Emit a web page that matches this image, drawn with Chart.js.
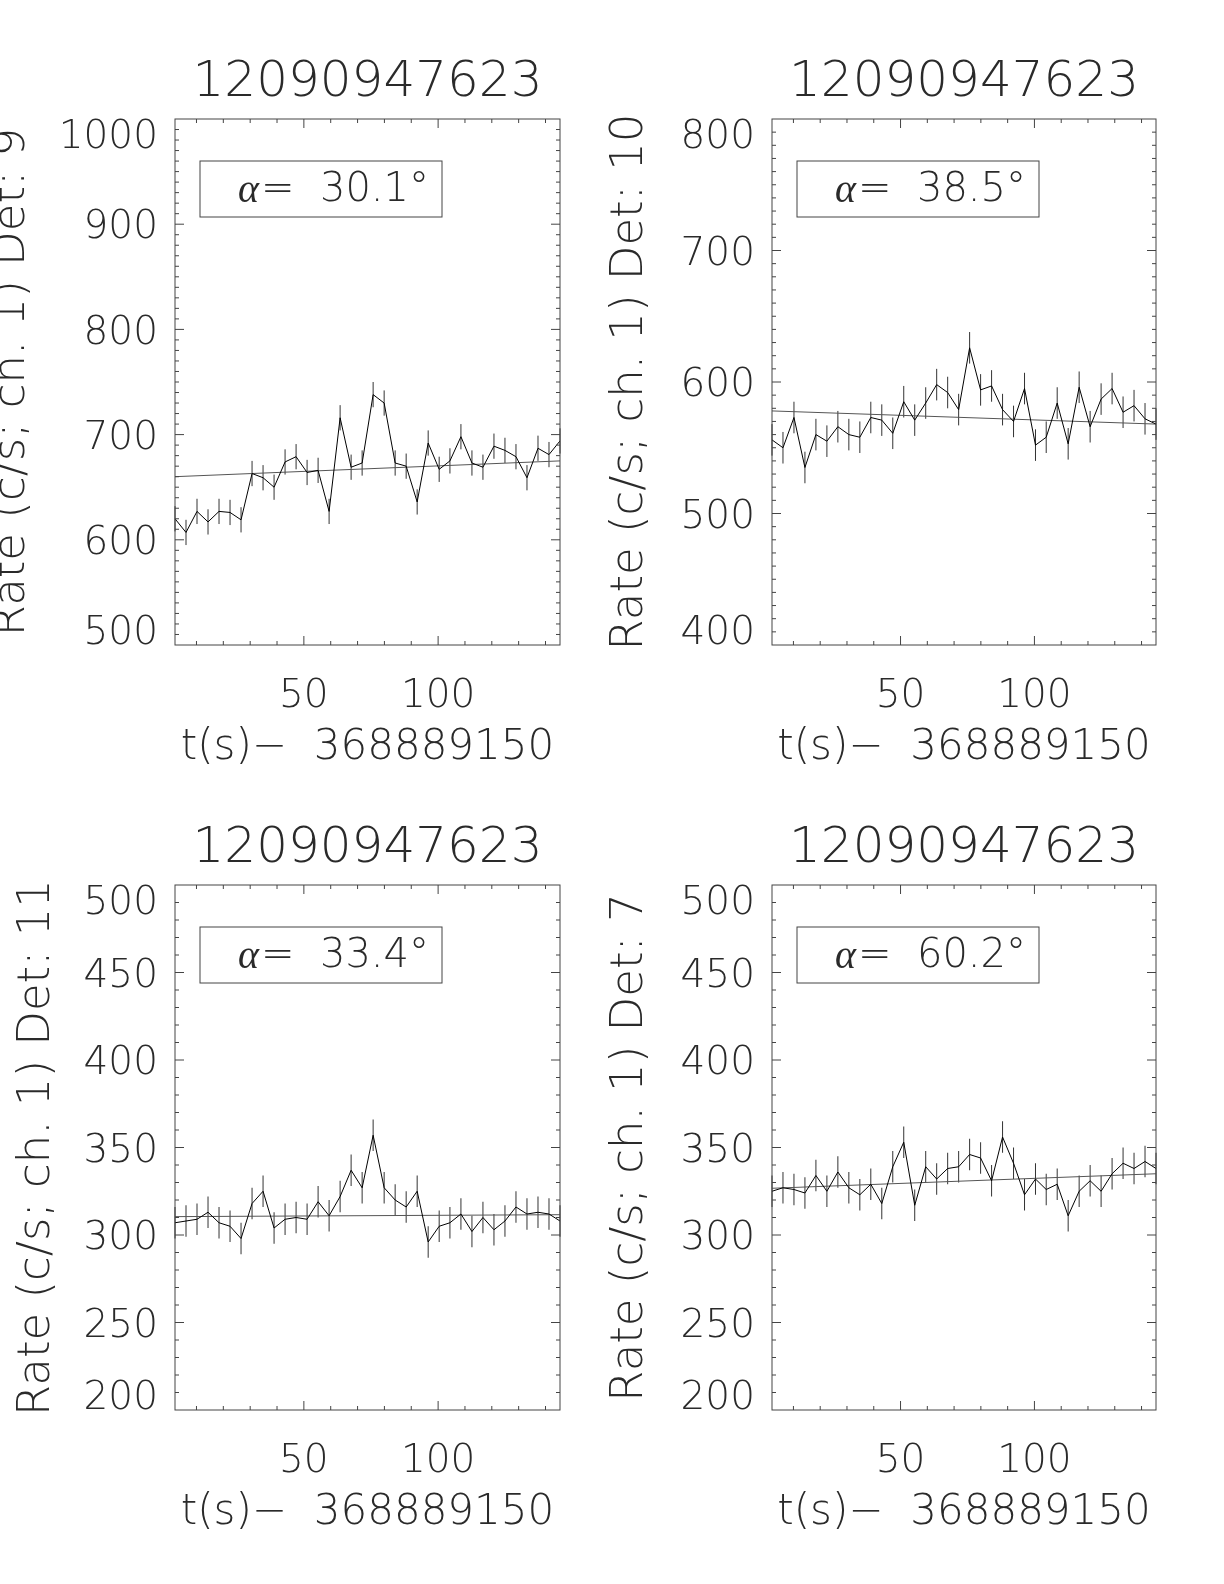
<!DOCTYPE html>
<html>
<head>
<meta charset="utf-8">
<title>Rates per detector</title>
<script src="https://cdn.jsdelivr.net/npm/chart.js@4.4.1/dist/chart.umd.min.js"></script>
<style>
  html, body { margin: 0; padding: 0; background: #fff; }
  #page { position: relative; width: 1224px; height: 1584px; overflow: hidden; }
  #page canvas { position: absolute; }
</style>
</head>
<body>
<div id="page">
  <canvas id="det9" width="590" height="792" style="left:0;top:0"></canvas>
  <canvas id="det10" width="634" height="792" style="left:590px;top:0"></canvas>
  <canvas id="det11" width="590" height="792" style="left:0;top:792px"></canvas>
  <canvas id="det7" width="634" height="792" style="left:590px;top:792px"></canvas>
</div>
<script>
// bin centres, seconds after 368889150
const times = [2.0, 6.1, 10.2, 14.3, 18.4, 22.5, 26.6, 30.7, 34.8, 38.9, 43.0, 47.1,
  51.2, 55.3, 59.4, 63.5, 67.6, 71.7, 75.8, 79.9, 84.0, 88.1, 92.2, 96.3,
  100.4, 104.4, 108.5, 112.6, 116.7, 120.8, 124.9, 129.0, 133.1, 137.2, 141.3, 145.4];

// count rates (c/s, ch. 1) per detector
const rateDet9 = [620, 607, 627, 617, 627, 626, 619, 663, 659, 650, 674, 679,
  664, 666, 627, 716, 669, 673, 738, 730, 673, 670, 636, 692,
  667, 675, 698, 673, 669, 689, 685, 679, 659, 687, 681, 694];
const rateDet10 = [556, 550, 573, 535, 560, 555, 566, 560, 558, 573, 571, 561,
  585, 571, 584, 598, 592, 579, 626, 594, 597, 579, 570, 595,
  552, 558, 584, 553, 596, 566, 587, 595, 577, 582, 572, 568];
const rateDet11 = [307, 308, 309, 313, 307, 305, 298, 318, 325, 304, 309, 310,
  309, 319, 311, 322, 337, 327, 357, 327, 320, 316, 325, 296,
  305, 307, 312, 302, 310, 303, 308, 316, 312, 313, 312, 308];
const rateDet7 = [325, 327, 326, 324, 334, 325, 336, 327, 323, 329, 318, 339,
  353, 317, 339, 332, 338, 339, 346, 344, 331, 356, 341, 323,
  332, 326, 329, 311, 325, 331, 325, 335, 341, 338, 342, 338];

// 1-sigma error on each rate
const errDet = [12, 12, 9, 9];

// linear fit, value at first and last bin
const fitDet9 = [660, 675];
const fitDet10 = [578, 568];
const fitDet11 = [310.5, 311.6];
const fitDet7 = [326.7, 335];

const detNames = [9, 10, 11, 7];
const alphaDeg = ["30.1", "38.5", "33.4", "60.2"];
const yRanges = [[500, 1000], [400, 800], [200, 500], [200, 500]];
const yMajor = [100, 100, 50, 50];
const obsId = "12090947623";

const INK = "#2a2a2a";
const FONT = "'DejaVu Sans', sans-serif";

// IDL-ish frame: box, inward ticks on all sides, error bars, alpha label
const idlFrame = {
  id: "idlFrame",
  beforeDatasetsDraw(chart, args, opts) {
    const { ctx, scales: { x, y } } = chart;
    const pts = chart.data.datasets[0].data;
    ctx.save();
    ctx.strokeStyle = "#333";
    ctx.lineWidth = 1;
    ctx.beginPath();
    pts.forEach((p) => {
      const px = x.getPixelForValue(p.x);
      ctx.moveTo(px, y.getPixelForValue(p.y - opts.err));
      ctx.lineTo(px, y.getPixelForValue(p.y + opts.err));
    });
    ctx.stroke();
    ctx.restore();
  },
  afterDatasetsDraw(chart, args, opts) {
    const { ctx, chartArea: a, scales: { x, y } } = chart;
    ctx.save();
    ctx.strokeStyle = "#444";
    ctx.lineWidth = 1;
    ctx.strokeRect(a.left, a.top, a.width, a.height);

    ctx.beginPath();
    for (let v = Math.ceil(x.min / 10) * 10; v <= x.max; v += 10) {
      const px = x.getPixelForValue(v);
      const len = v % 50 === 0 ? 9 : 4;
      ctx.moveTo(px, a.bottom);
      ctx.lineTo(px, a.bottom - len);
      ctx.moveTo(px, a.top);
      ctx.lineTo(px, a.top + len);
    }
    for (let v = y.min + 10; v < y.max; v += 10) {
      const py = y.getPixelForValue(v);
      const len = v % opts.major === 0 ? 9 : 4;
      ctx.moveTo(a.left, py);
      ctx.lineTo(a.left + len, py);
      ctx.moveTo(a.right, py);
      ctx.lineTo(a.right - len, py);
    }
    ctx.stroke();

    // alpha box
    const bx = a.left + 25, by = a.top + 42, bw = 242, bh = 56;
    ctx.strokeRect(bx, by, bw, bh);
    ctx.fillStyle = INK;
    ctx.textBaseline = "middle";
    ctx.textAlign = "left";
    ctx.font = "italic 40px 'Liberation Serif', serif";
    ctx.fillText("α", bx + 38, by + bh / 2 + 2);
    const aw = ctx.measureText("α").width;
    ctx.font = "200 40px " + FONT;
    ctx.fillText("=  " + opts.alpha + "°", bx + 40 + aw, by + bh / 2 + 2);
    ctx.restore();
  },
};

// plot box inside each canvas (W wide), and y-title centre
const panels = [
  { id: "det9", rates: rateDet9, fit: fitDet9, W: 590, L: 175, R: 560, T: 119, B: 645, titleX: 12 },
  { id: "det10", rates: rateDet10, fit: fitDet10, W: 634, L: 182, R: 566, T: 119, B: 645, titleX: 40 },
  { id: "det11", rates: rateDet11, fit: fitDet11, W: 590, L: 175, R: 560, T: 93, B: 618, titleX: 37 },
  { id: "det7", rates: rateDet7, fit: fitDet7, W: 634, L: 182, R: 566, T: 93, B: 618, titleX: 40 },
];

panels.forEach((p, k) => {
  const pts = times.map((t, i) => ({ x: t, y: p.rates[i] }));
  const fitPts = [
    { x: times[0], y: p.fit[0] },
    { x: times[times.length - 1], y: p.fit[1] },
  ];

  new Chart(document.getElementById(p.id), {
    type: "scatter",
    data: {
      datasets: [
        {
          data: pts,
          showLine: true,
          borderColor: "#000",
          borderWidth: 1,
          pointRadius: 0,
          tension: 0,
        },
        {
          data: fitPts,
          showLine: true,
          borderColor: "#555",
          borderWidth: 1,
          pointRadius: 0,
        },
      ],
    },
    options: {
      responsive: false,
      animation: false,
      devicePixelRatio: 1,
      layout: {
        padding: { left: 0, right: p.W - p.R, top: p.T - 72, bottom: 792 - p.B - 130 },
      },
      scales: {
        x: {
          type: "linear",
          min: times[0],
          max: times[times.length - 1],
          grid: { display: false, drawTicks: false },
          border: { display: false },
          afterBuildTicks: (scale) => {
            scale.ticks = [{ value: 50 }, { value: 100 }];
          },
          afterFit: (scale) => {
            scale.height = 130;
          },
          ticks: {
            color: INK,
            padding: 28,
            autoSkip: false,
            maxRotation: 0,
            font: { family: FONT, size: 39, weight: 200 },
          },
          title: {
            display: true,
            text: "t(s)−  368889150",
            color: INK,
            font: { family: FONT, size: 42, weight: 200 },
            padding: { top: 0, bottom: 2 },
          },
        },
        y: {
          min: yRanges[k][0],
          max: yRanges[k][1],
          grid: { display: false, drawTicks: false },
          border: { display: false },
          afterFit: (scale) => {
            scale.width = p.L;
          },
          ticks: {
            stepSize: yMajor[k],
            color: INK,
            padding: 17,
            labelOffset: 4,
            autoSkip: false,
            font: { family: FONT, size: 39, weight: 200, lineHeight: 0.77 },
            // IDL pulls the end labels inside the box
            callback: (value, i, ticks) => {
              if (i === ticks.length - 1) return ["", String(value)];
              if (i === 0) return [String(value), ""];
              return String(value);
            },
          },
          title: {
            display: true,
            text: "Rate (c/s; ch. 1) Det: " + detNames[k],
            color: INK,
            font: { family: FONT, size: 45, weight: 200, lineHeight: 1 },
            padding: { top: p.titleX - 22.5, bottom: 0 },
          },
        },
      },
      plugins: {
        legend: { display: false },
        tooltip: { enabled: false },
        title: {
          display: true,
          text: obsId,
          fullSize: false,
          color: INK,
          font: { family: FONT, size: 50, weight: 200 },
          padding: { top: 6, bottom: 6 },
        },
        idlFrame: { err: errDet[k], major: yMajor[k], alpha: alphaDeg[k] },
      },
    },
    plugins: [idlFrame],
  });
});
</script>
</body>
</html>
